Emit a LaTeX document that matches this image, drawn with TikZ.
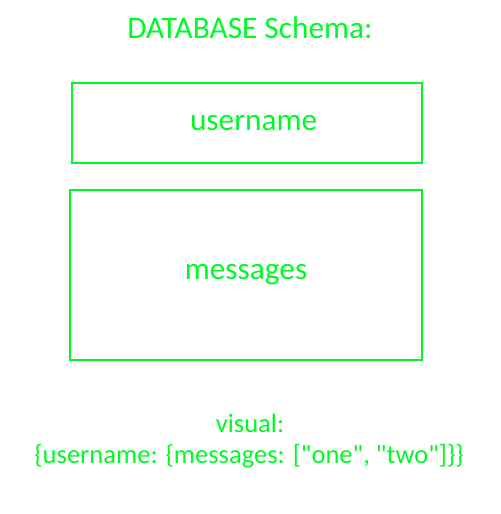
\documentclass[tikz,border=0pt]{standalone}
\usepackage{fontspec}
\setmainfont{Carlito}
\usepackage{tikz}
\usetikzlibrary{positioning}
\definecolor{schemagreen}{RGB}{0,250,40}
\tikzset{
  field/.style={draw=schemagreen, line width=1.5pt, text=schemagreen, font=\fontsize{23.5}{28}\selectfont, inner sep=0pt},
  caption/.style={text=schemagreen, anchor=base, inner sep=0pt}
}

\begin{document}
\begin{tikzpicture}[x=0.75pt, y=-0.75pt]
			\useasboundingbox (0,0) rectangle (500,514);
			\node at (250,38) (title) [caption, font=\fontsize{23.5}{28}\selectfont] {DATABASE Schema:};
			\node at (247,123) (user) [field, minimum width=350*0.75pt, minimum height=80*0.75pt] {\hspace{10pt}username};
			\node at (246,275) (msgs) [field, minimum width=352*0.75pt, minimum height=170*0.75pt] {messages};
			\node at (250,432) (visual) [caption, font=\fontsize{19.9}{23}\selectfont] {visual:};
			\node at (249,463) (example) [caption, font=\fontsize{19.9}{23}\selectfont] {\{username: \{messages: [\textquotedbl one\textquotedbl, \textquotedbl two\textquotedbl]\}\}};
\end{tikzpicture}
\end{document}
